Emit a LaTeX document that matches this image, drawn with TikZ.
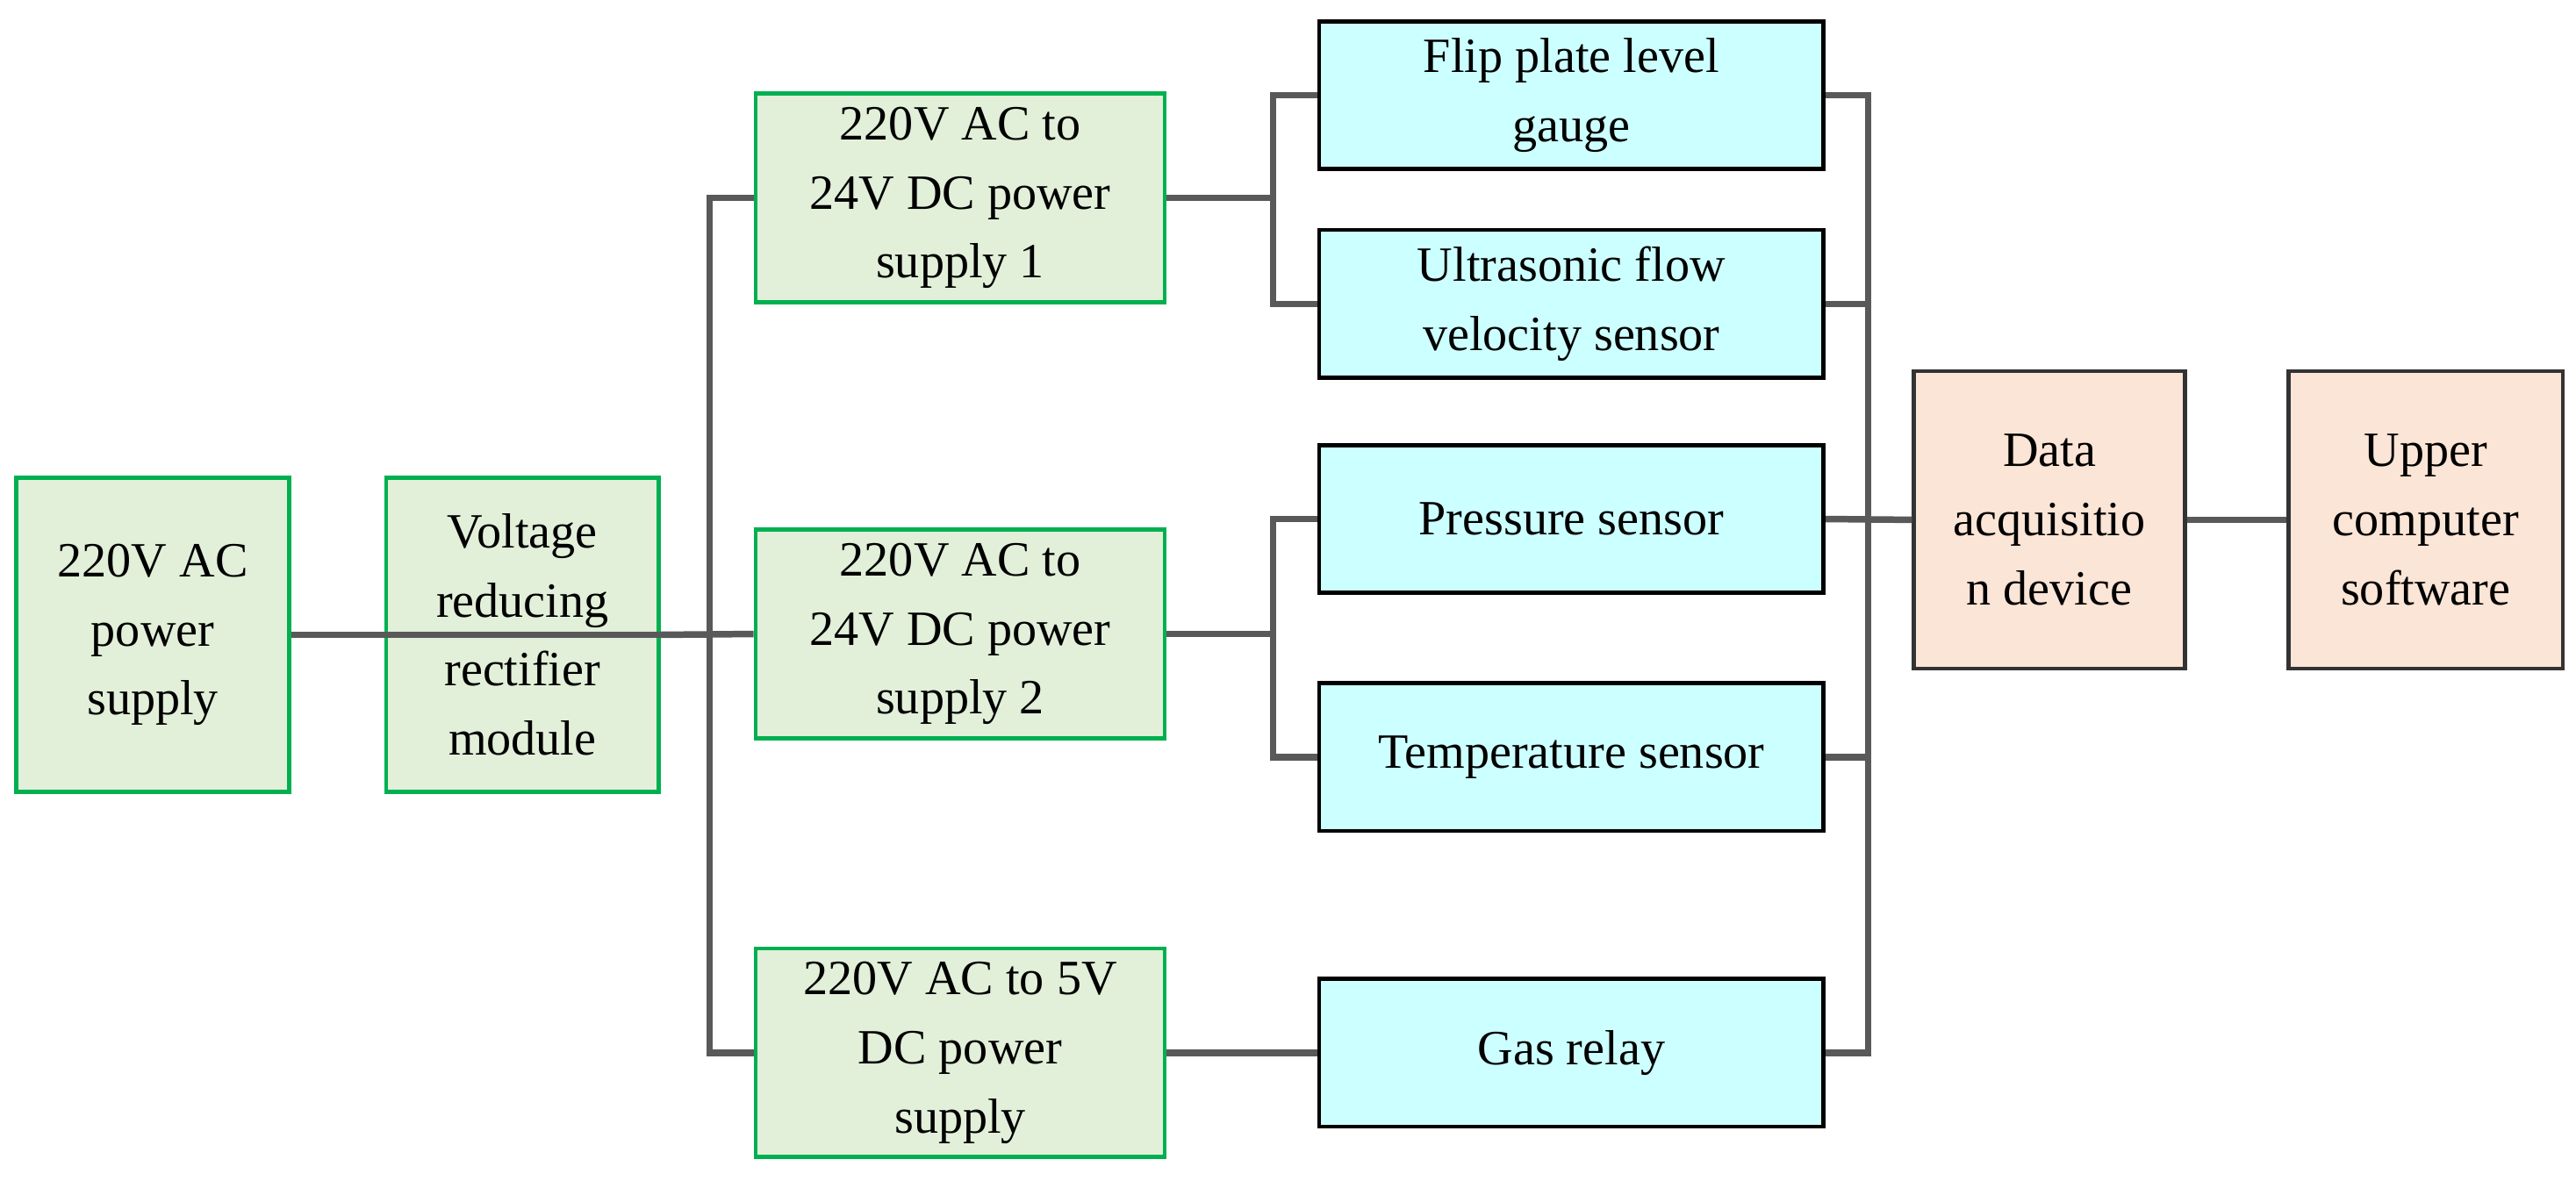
\documentclass[tikz,border=0pt]{standalone}
\usepackage{fontspec}
\setmainfont{Liberation Serif}
\begin{document}
\begin{tikzpicture}[x=1pt,y=-1pt,
  box/.style={draw, line width=2.5pt, align=center, inner sep=0pt, font=\fontsize{30}{42}\selectfont},
  g/.style={box, draw=green!70!black, fill=green!10!gray!15!white},
  c/.style={box, draw=black, fill=cyan!20!white},
  p/.style={box, draw=black!80, fill=orange!18!white},
  ln/.style={draw=black!65, line width=4pt}]
\useasboundingbox (0,0) rectangle (1568,718.6);
\definecolor{gfill}{HTML}{E2EFD9}\definecolor{gdraw}{HTML}{00B050}
\definecolor{cfill}{HTML}{CCFFFF}\definecolor{pfill}{HTML}{FBE5D6}
\tikzset{g/.append style={draw=gdraw, fill=gfill}, c/.append style={fill=cfill}, p/.append style={fill=pfill}}
\node[g, minimum width=166, minimum height=191] (A) at (93,386.5) {220V AC\\power\\supply};
\node[g, minimum width=166, minimum height=191] (B) at (318,386.5) {Voltage\\reducing\\rectifier\\module};
\node[g, minimum width=249, minimum height=127] (C1) at (584.5,120.5) {220V AC to\\24V DC power\\supply 1};
\node[g, minimum width=249, minimum height=127] (C2) at (584.5,386) {220V AC to\\24V DC power\\supply 2};
\node[g, minimum width=249, minimum height=127] (C3) at (584.5,641) {220V AC to 5V\\DC power\\supply};
\node[c, minimum width=307, minimum height=90] (D1) at (956.5,58) {Flip plate level\\gauge};
\node[c, minimum width=307, minimum height=90] (D2) at (956.5,185) {Ultrasonic flow\\velocity sensor};
\node[c, minimum width=307, minimum height=90] (D3) at (956.5,316) {Pressure sensor};
\node[c, minimum width=307, minimum height=90] (D4) at (956.5,461) {Temperature sensor};
\node[c, minimum width=307, minimum height=90] (D5) at (956.5,641) {Gas relay};
\node[p, minimum width=165, minimum height=181] (E) at (1247.5,316.5) {Data\\acquisitio\\n device};
\node[p, minimum width=167, minimum height=181] (F) at (1476.5,316.5) {Upper\\computer\\software};
\coordinate (b1) at (432,120.5); \coordinate (b3) at (432,641);
\coordinate (s1) at (775,58); \coordinate (s2) at (775,185);
\coordinate (s3) at (775,316); \coordinate (s4) at (775,461);
\coordinate (r1) at (1137,58); \coordinate (r5) at (1137,641);
\draw[ln] (A.east) -- (B.east|-A.east);
\draw[ln] (B.east) -- (C2.west);
\draw[ln] (C1.west) -- (b1) -- (b3) -- (C3.west);
\draw[ln] (C1.east) -- (s1|-C1.east);
\draw[ln] (D1.west) -- (s1) -- (s2) -- (D2.west);
\draw[ln] (C2.east) -- (s3|-C2.east);
\draw[ln] (D3.west) -- (s3) -- (s4) -- (D4.west);
\draw[ln] (C3.east) -- (D5.west);
\draw[ln] (D1.east) -- (r1) -- (r5) -- (D5.east);
\draw[ln] (D2.east) -- (r1|-D2.east);
\draw[ln] (D3.east) -- (E.west);
\draw[ln] (D4.east) -- (r1|-D4.east);
\draw[ln] (E.east) -- (F.west);
\end{tikzpicture}
\end{document}
